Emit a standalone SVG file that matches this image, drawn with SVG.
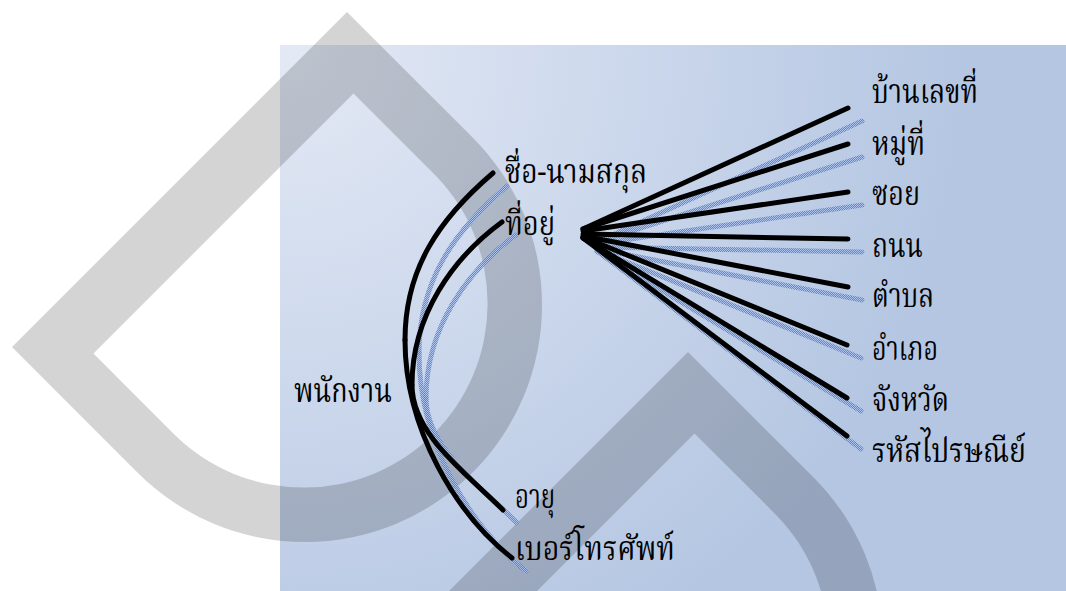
<svg xmlns="http://www.w3.org/2000/svg" width="1066" height="591" viewBox="0 0 1066 591">
<defs>
<radialGradient id="bg" gradientUnits="userSpaceOnUse" cx="290" cy="50" r="680">
<stop offset="0" stop-color="#e3e9f5"/>
<stop offset="1" stop-color="#b4c6e2"/>
</radialGradient>
<pattern id="dots" width="2" height="2" patternUnits="userSpaceOnUse">
<rect x="0" y="0" width="2" height="2" fill="#a9c1ee"/>
<rect x="0" y="0" width="1" height="1" fill="#4a7dd8"/>
<rect x="1" y="1" width="1" height="1" fill="#4a7dd8"/>
</pattern>
<path id="wm" fill-rule="evenodd" d="M347,12 L472.6,137.4 A237,237 0 0 1 137.4,472.6 L12,347 Z M353.5,93.5 L93.5,353.5 L174.9,435.1 A184,184 0 0 0 435.1,174.9 Z"/>
</defs>
<style>
.lbl{font-family:"Noto Serif Thai","Noto Sans Thai","Liberation Serif",serif;font-size:33px;fill:#000}
.ln{fill:none;stroke:#000;stroke-width:5;stroke-linecap:round}
.sh{fill:none;stroke:url(#dots);stroke-width:5;stroke-linecap:round;opacity:0.85}
</style>
<rect x="280" y="45" width="786" height="546" fill="url(#bg)"/>
<g id="watermark" fill="#000" fill-opacity="0.17">
<use href="#wm"/>
<use href="#wm" transform="translate(341,340)"/>
</g>
<g id="connectors">
<g id="shadows" transform="translate(14,13)">
<path class="sh" d="M493,173 C439,219 405,269 405,340"/>
<path class="sh" d="M405,340 C405,430 457,515 512,558"/>
<path class="sh" d="M502,222 C453.4,257.4 412,315 412,385"/>
<path class="sh" d="M412,385 C412,435 468,474.5 503,510"/>
<path class="sh" d="M583,229 L848,108"/>
<path class="sh" d="M583,229 L848,144"/>
<path class="sh" d="M583,231 L848,192"/>
<path class="sh" d="M583,234 L848,239"/>
<path class="sh" d="M583,236 L848,287"/>
<path class="sh" d="M583,237 L847,345"/>
<path class="sh" d="M583,238 L847,398"/>
<path class="sh" d="M583,238 L847,436"/>
</g>
<path class="ln" d="M493,173 C439,219 405,269 405,340"/>
<path class="ln" d="M405,340 C405,430 457,515 512,558"/>
<path class="ln" d="M502,222 C453.4,257.4 412,315 412,385"/>
<path class="ln" d="M412,385 C412,435 468,474.5 503,510"/>
<path class="ln" d="M583,229 L848,108"/>
<path class="ln" d="M583,229 L848,144"/>
<path class="ln" d="M583,231 L848,192"/>
<path class="ln" d="M583,234 L848,239"/>
<path class="ln" d="M583,236 L848,287"/>
<path class="ln" d="M583,237 L847,345"/>
<path class="ln" d="M583,238 L847,398"/>
<path class="ln" d="M583,238 L847,436"/>
</g>
<g id="n-employee"><text class="lbl" x="294" y="402" textLength="98" lengthAdjust="spacingAndGlyphs">พนักงาน</text></g>
<g id="n-name"><text class="lbl" x="505" y="183" textLength="142" lengthAdjust="spacingAndGlyphs">ชื่อ-นามสกุล</text></g>
<g id="n-address"><text class="lbl" x="505" y="235" textLength="50" lengthAdjust="spacingAndGlyphs">ที่อยู่</text></g>
<g id="n-age"><text class="lbl" x="515" y="508" textLength="40" lengthAdjust="spacingAndGlyphs">อายุ</text></g>
<g id="n-phone"><text class="lbl" x="515" y="560" textLength="160" lengthAdjust="spacingAndGlyphs">เบอร์โทรศัพท์</text></g>
<g id="n-house"><text class="lbl" x="872" y="103" textLength="106" lengthAdjust="spacingAndGlyphs">บ้านเลขที่</text></g>
<g id="n-moo"><text class="lbl" x="872" y="155" textLength="53" lengthAdjust="spacingAndGlyphs">หมู่ที่</text></g>
<g id="n-soi"><text class="lbl" x="872" y="205" textLength="48" lengthAdjust="spacingAndGlyphs">ซอย</text></g>
<g id="n-road"><text class="lbl" x="872" y="257" textLength="51" lengthAdjust="spacingAndGlyphs">ถนน</text></g>
<g id="n-tambon"><text class="lbl" x="872" y="307" textLength="62" lengthAdjust="spacingAndGlyphs">ตำบล</text></g>
<g id="n-amphoe"><text class="lbl" x="872" y="360" textLength="66" lengthAdjust="spacingAndGlyphs">อำเภอ</text></g>
<g id="n-province"><text class="lbl" x="872" y="411" textLength="77" lengthAdjust="spacingAndGlyphs">จังหวัด</text></g>
<g id="n-postcode"><text class="lbl" x="872" y="462" textLength="154" lengthAdjust="spacingAndGlyphs">รหัสไปรษณีย์</text></g>
</svg>
